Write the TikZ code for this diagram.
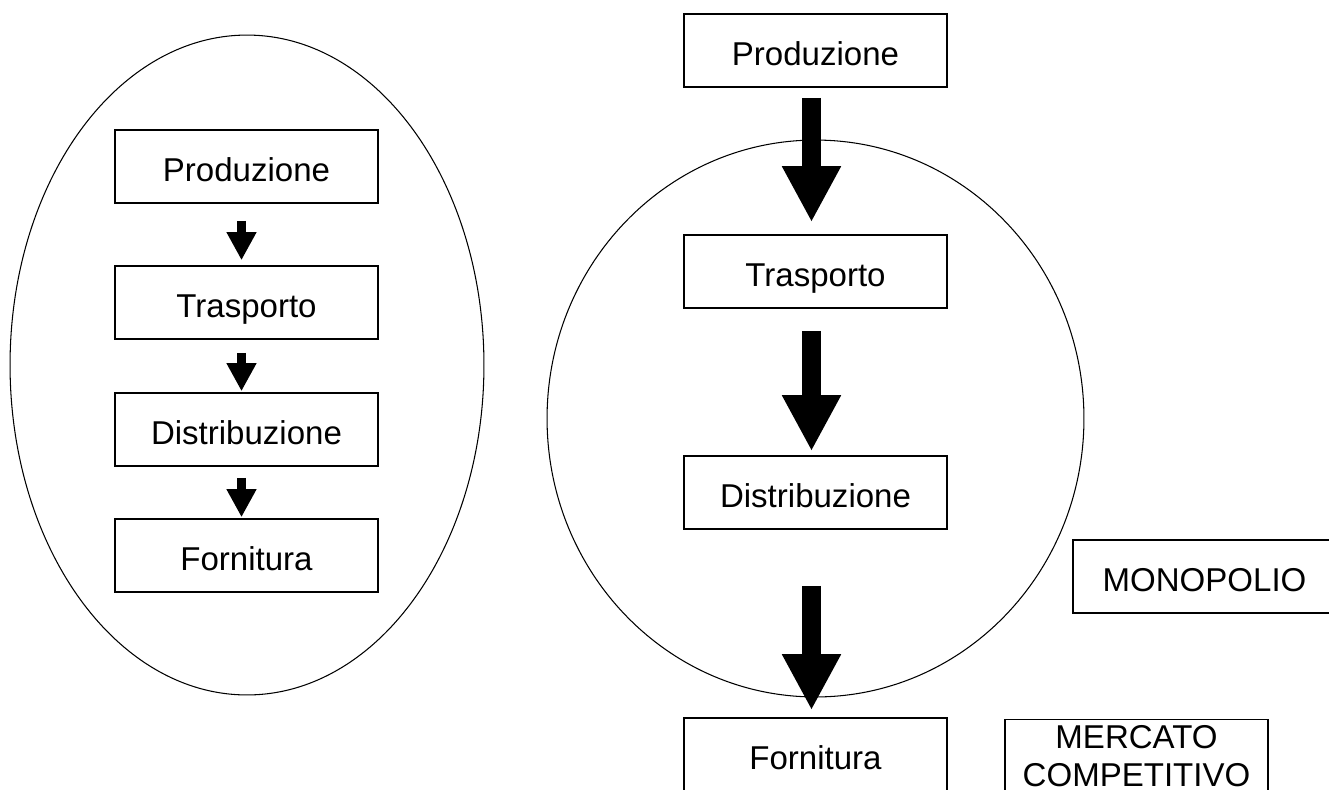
\documentclass[tikz,border=0pt]{standalone}
\usepackage{fontspec}
\setmainfont{Liberation Sans}
\usetikzlibrary{calc,arrows.meta,shapes.geometric}

\tikzset{
  box/.style={draw, line width=0.9pt, minimum width=5.26cm, minimum height=1.46cm,
    inner sep=0pt, align=center, font=\fontsize{18.8}{21.6}\selectfont},
  onebox/.style={box, text height=0.6cm, text depth=0pt},
  ring/.style={draw, ellipse, line width=0.6pt, inner sep=0pt},
  smallarrow/.style={line width=0.19cm, -{Triangle[width=0.56cm,length=0.56cm]}},
  bigarrow/.style={line width=0.37cm, -{Triangle[width=1.1cm,length=1.12cm]}}
}

\begin{document}
\begin{tikzpicture}[x=0.02cm,y=-0.02cm]
                \useasboundingbox (0,0) rectangle (1329,789);
                \clip (0,0) rectangle (1329,789);
                
                % the two rings
                \node[ring, minimum width=9.48cm, minimum height=13.2cm] (lring) at (247,365) {};
                \node[ring, minimum width=10.74cm, minimum height=11.14cm] (rring) at (815.5,418.5) {};
                
                % left chain
                \foreach \t/\n/\y in {Produzione/lp/166.5, Trasporto/lt/302.5, Distribuzione/ld/429.5, Fornitura/lf/555.5} {
                    \node[onebox] (\n) at (246.5,\y) {\t};
                }
                \foreach \a/\b/\s/\e in {lp/lt/17/5, lt/ld/13/1, ld/lf/11/1} {
                    \draw[smallarrow] ($(\a.south)+(-5,\s)$) -- ($(\b.north)+(-5,-\e)$);
                }
                
                % right chain
                \foreach \t/\n/\y in {Produzione/rp/50.5, Trasporto/rt/271.5, Distribuzione/rd/492.5, Fornitura/rf/754.5} {
                    \node[onebox] (\n) at (815.5,\y) {\t};
                }
                \foreach \a/\b/\s/\e in {rp/rt/10/12, rt/rd/22/4, rd/rf/56/7} {
                    \draw[bigarrow] ($(\a.south)+(-4,\s)$) -- ($(\b.north)+(-4,-\e)$);
                }
                
                % labels
                \node[onebox] (mono) at (1204.5,576.5) {MONOPOLIO};
                \node[box] (merc) at (1136.5,756) {MERCATO\\COMPETITIVO};
\end{tikzpicture}
\end{document}
